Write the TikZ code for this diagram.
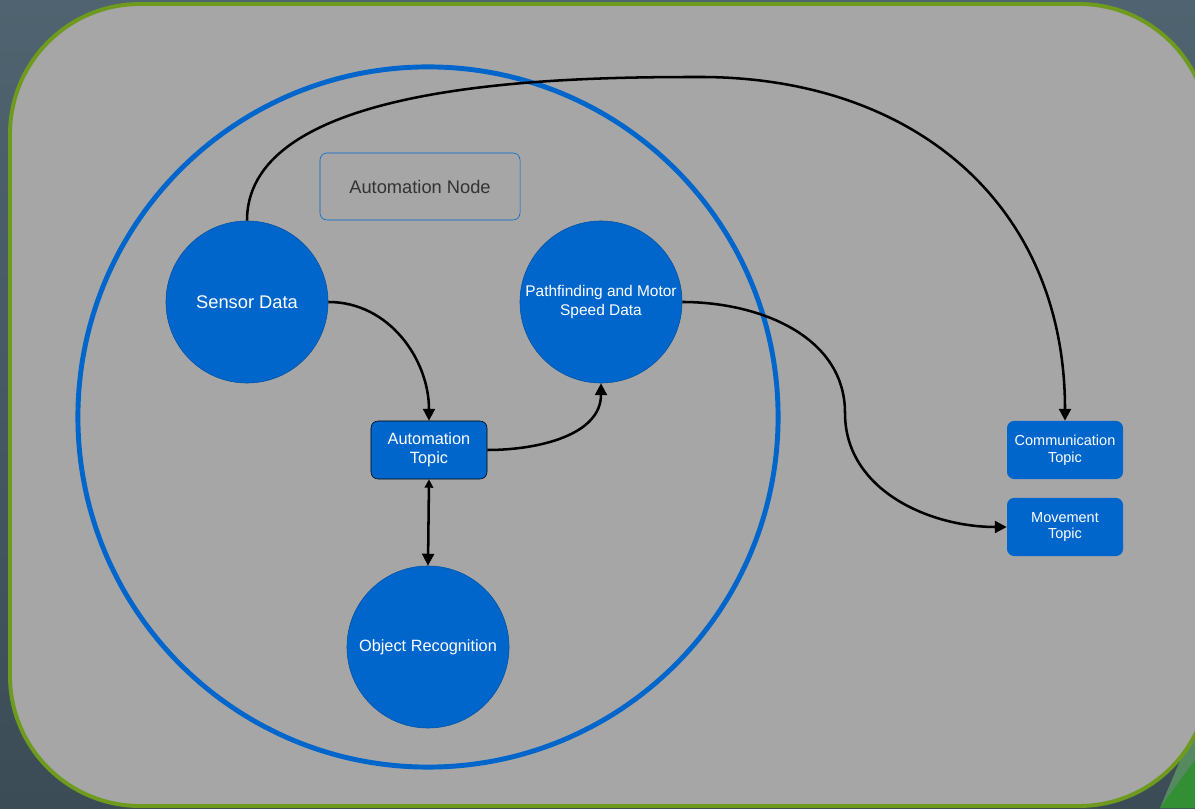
\documentclass[tikz,border=0pt]{standalone}
\usepackage{fontspec}
\setmainfont{Liberation Sans}
\usetikzlibrary{arrows.meta}

\definecolor{nodeblue}{HTML}{0066CC}
\definecolor{panelgray}{HTML}{A6A6A6}
\definecolor{framegreen}{HTML}{6E9B1E}
\definecolor{slatetop}{HTML}{4F6470}
\definecolor{slatemid}{HTML}{6A8A99}
\definecolor{slatebot}{HTML}{3C4C56}

\tikzset{
  bubble/.style={circle, fill=nodeblue, draw=nodeblue!80!black, thin,
    minimum size=4.05cm, text=white, align=center, inner sep=0pt},
  topic/.style={rectangle, rounded corners=5pt, fill=nodeblue,
    minimum width=2.9cm, minimum height=1.45cm, text=white, align=center,
    font=\fontsize{10.3}{12}\selectfont},
  flow/.style={line width=1.8pt, -{Triangle[length=8.5pt,width=8.5pt]}},
}

\begin{document}
\begin{tikzpicture}[x=0.025cm, y=0.025cm]

        % Sfondo
        \shade[top color=slatetop, middle color=slatemid, bottom color=slatebot]
            (0,0) rectangle (1195,808);
        \useasboundingbox (0,0) rectangle (1195,808);

        % Triangoli verdi in basso a destra
        \fill[green!50!black!60!white, opacity=0.6]
            (1182,52) -- (1195,68) -- (1195,0) -- (1160,0) -- cycle;
        \fill[green!45!black!80!white]
            (1195,48) -- (1195,0) -- (1160,0) -- cycle;

        % Pannello grigio
        \draw[fill=panelgray, draw=framegreen, line width=2.8pt, rounded corners=3.25cm]
            (10,804) rectangle (1209,2);

        % Cerchio grande
        \draw[nodeblue, line width=3.5pt] (428,391) circle[radius=8.75cm];

        % Etichetta del nodo
        \node[draw=nodeblue, rounded corners=5pt, thin, minimum width=5cm,
              minimum height=1.675cm, text=black!80,
              font=\fontsize{13}{15}\selectfont] (autonode) at (420,621.5)
        {Automation Node};

        % Cerchi
        \node[bubble, font=\fontsize{13}{15}\selectfont] (sensor) at (247,506)
        {Sensor Data};
        \node[bubble, font=\fontsize{11}{13.5}\selectfont] (pathmotor) at (601,506)
        {Pathfinding and Motor\\Speed Data};
        \node[bubble, font=\fontsize{11.6}{14}\selectfont] (objrec) at (428,161)
        {Object Recognition};

        % Topic
        \node[topic, draw=black, thin, font=\fontsize{11.6}{13.5}\selectfont]
            (autotopic) at (429,358) {Automation\\Topic};
        \node[topic] (commtopic) at (1065,358) {Communication\\Topic};
        \node[topic] (movetopic) at (1065,281) {Movement\\Topic};

        % Punti di passaggio
        \coordinate (peak) at (700,731);
        \coordinate (bend) at (845,395);

        % Frecce
        \draw[flow] (sensor.east) to[out=0, in=90] (autotopic.north);
        \draw[flow] (autotopic.east) to[out=0, in=-90] (pathmotor.south);
        \draw[line width=1.8pt, {Triangle[length=6pt,width=6pt]}-{Triangle[length=8.5pt,width=8.5pt]}]
            (autotopic.south) -- (objrec.north);
        \draw[flow] (pathmotor.east) to[out=0, in=90] (bend)
            to[out=-90, in=180] (movetopic.west);
        \draw[flow] (sensor.north) to[out=90, in=180, looseness=0.75] (peak)
            to[out=0, in=90, looseness=1.1] (commtopic.north);

\end{tikzpicture}
\end{document}
